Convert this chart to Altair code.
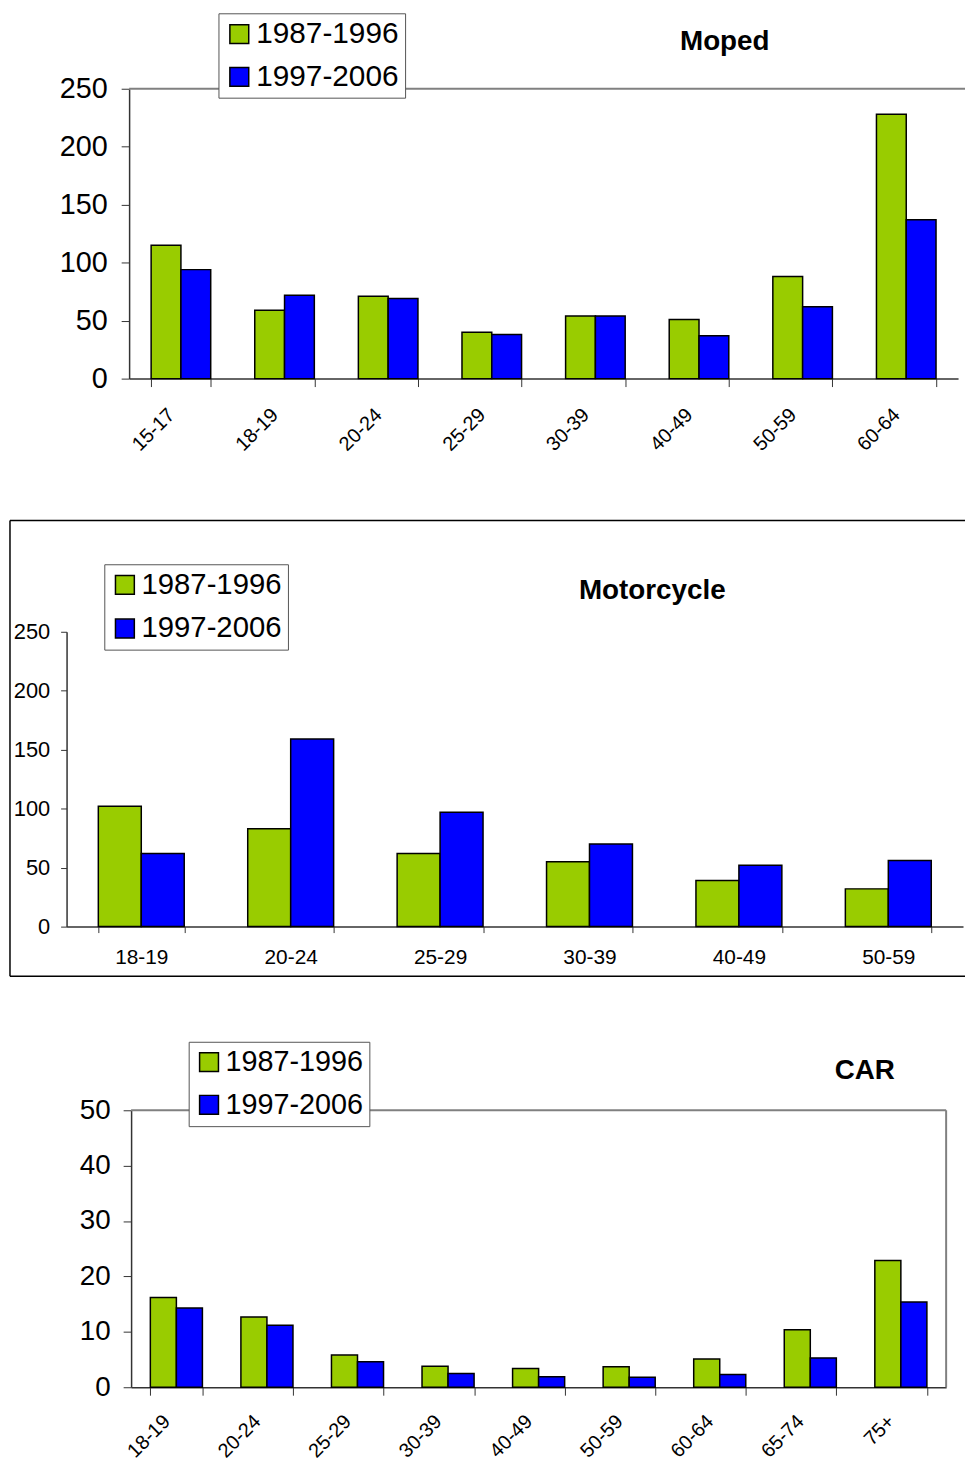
import altair as alt
import pandas as pd

FONT = "Liberation Sans"

periods = ["1987-1996", "1997-2006"]
colors = ["#99CC00", "#0000FF"]

moped_ages = ["15-17", "18-19", "20-24", "25-29", "30-39", "40-49", "50-59", "60-64"]
moped_8796 = [115, 59, 71, 40, 54, 51, 88, 228]
moped_9706 = [94, 72, 69, 38, 54, 37, 62, 137]

moto_ages = ["18-19", "20-24", "25-29", "30-39", "40-49", "50-59"]
moto_8796 = [102, 83, 62, 55, 39, 32]
moto_9706 = [62, 159, 97, 70, 52, 56]

car_ages = ["18-19", "20-24", "25-29", "30-39", "40-49", "50-59", "60-64", "65-74", "75+"]
car_8796 = [16.2, 12.7, 5.8, 3.8, 3.4, 3.7, 5.1, 10.4, 22.9]
car_9706 = [14.3, 11.2, 4.6, 2.5, 1.9, 1.8, 2.3, 5.3, 15.4]

# overall canvas (plot area of one layered chart that holds the three panels)
W, H = 964, 1458


def long_df(ages, a, b):
    rows = []
    for age, v1, v2 in zip(ages, a, b):
        rows.append({"age": age, "period": periods[0], "value": v1})
        rows.append({"age": age, "period": periods[1], "value": v2})
    return pd.DataFrame(rows)


def one():
    return alt.Chart(pd.DataFrame({"k": [0]}))


def hrule(x1, x2, y, color="black", sw=1.5):
    return one().mark_rule(color=color, strokeWidth=sw).encode(
        x=alt.value(x1), x2=alt.value(x2), y=alt.value(y))


def vrule(x, y1, y2, color="black", sw=1.5):
    return one().mark_rule(color=color, strokeWidth=sw).encode(
        x=alt.value(x), y=alt.value(y1), y2=alt.value(y2))


def title_text(text, x, y, size=28):
    return alt.Chart(pd.DataFrame({"t": [text]})).mark_text(
        font=FONT, fontSize=size, fontWeight="bold", color="black",
        align="center", baseline="middle").encode(
        text="t:N", x=alt.value(x), y=alt.value(y))


def bars(ages, a, b, xr, yr, ymax, ystep, yfont, ytick, ypad,
         xfont, xangle, xtick, xpad, xloff, lx, ly, lfont, lpad):
    df = long_df(ages, a, b)
    xaxis_kw = dict(orient="bottom", offset=-(H - yr[0]), title=None,
                    labelFont=FONT, labelFontSize=xfont, labelColor="black",
                    tickBand="extent", tickSize=xtick, tickColor="#333333",
                    domainColor="#333333", domainWidth=1.5, labelPadding=xpad,
                    grid=False)
    if xangle != 0:
        xaxis_kw.update(labelAngle=xangle, labelAlign="right", labelBaseline="top",
                        labelOffset=xloff)
    else:
        xaxis_kw.update(labelAngle=0)
    return alt.Chart(df).mark_bar(stroke="black", strokeWidth=1.5).encode(
        x=alt.X("age:N", sort=ages,
                scale=alt.Scale(range=list(xr), paddingInner=0.425, paddingOuter=0.2125),
                axis=alt.Axis(**xaxis_kw)),
        xOffset=alt.XOffset("period:N", sort=periods),
        y=alt.Y("value:Q", scale=alt.Scale(domain=[0, ymax], range=list(yr), nice=False),
                axis=alt.Axis(orient="left", offset=-xr[0], title=None,
                              values=list(range(0, ymax + 1, ystep)),
                              labelFont=FONT, labelFontSize=yfont, labelColor="black",
                              tickSize=ytick, tickColor="#333333", domainColor="#333333",
                              domainWidth=1.5, labelPadding=ypad, grid=False)),
        color=alt.Color("period:N", sort=periods,
                        scale=alt.Scale(domain=periods, range=colors),
                        legend=alt.Legend(title=None, orient="none", legendX=lx, legendY=ly,
                                          fillColor="white", strokeColor="#555555",
                                          padding=lpad, rowPadding=13, labelOffset=2,
                                          labelFont=FONT, labelFontSize=lfont,
                                          labelColor="black", symbolType="square",
                                          symbolSize=361, symbolStrokeColor="black",
                                          symbolStrokeWidth=1.5, symbolOpacity=1)),
    )


# Moped panel
moped = bars(moped_ages, moped_8796, moped_9706, (122, 957), (368, 76), 250, 50, 29, 8, 14,
             20, -45, 8, 18, -17, 212, 0, 30, 6)
# Motorcycle panel
moto = bars(moto_ages, moto_8796, moto_9706, (59, 962), (920, 623), 250, 50, 22, 6, 11,
            21, 0, 6, 14, 0, 97, 555, 29.5, 6)
# Car panel
car = bars(car_ages, car_8796, car_9706, (124, 945), (1384, 1105), 50, 10, 28, 8, 13,
           20, -45, 8, 16, -17, 182, 1036, 29, 6)

decor = [
    hrule(122, 964, 76, color="#808080", sw=2),
    title_text("Moped", 722, 29),
    hrule(2, 966, 511), vrule(2, 511, 970), hrule(2, 966, 970),
    title_text("Motorcycle", 649, 582),
    hrule(124, 945, 1105, color="#808080", sw=2),
    vrule(945, 1105, 1384, color="#808080", sw=2),
    title_text("CAR", 863, 1066),
]

chart = alt.layer(*decor, moped, moto, car).resolve_scale(
    x="independent", y="independent", xOffset="independent", color="independent"
).properties(
    width=W, height=H, padding=0, autosize=alt.AutoSizeParams(type="none")
).configure_view(stroke=None)

chart.save("out.html", embed_options={"renderer": "svg", "actions": False})
